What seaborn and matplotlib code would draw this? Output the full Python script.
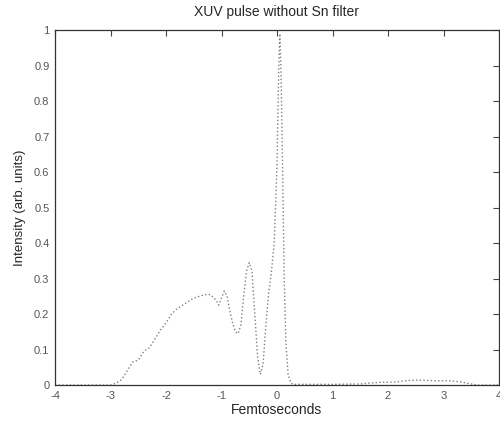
import matplotlib
matplotlib.use("Agg")
import matplotlib.pyplot as plt
import seaborn as sns
import pandas as pd

# time axis (fs) and intensity
tiempo = [-4.0, -3.5, -3.0, -2.9, -2.8, -2.7, -2.6, -2.5, -2.4, -2.3, -2.2,
          -2.1, -2.0, -1.9, -1.8, -1.7, -1.6, -1.5, -1.4, -1.3, -1.2, -1.1,
          -1.05, -1.0, -0.95, -0.9, -0.85, -0.8, -0.75, -0.7, -0.65, -0.6,
          -0.55, -0.5, -0.45, -0.4, -0.35, -0.3, -0.25, -0.2, -0.15, -0.1,
          -0.05, 0.0, 0.03, 0.05, 0.07, 0.1, 0.13, 0.16, 0.2, 0.25, 0.3,
          0.5, 1.0, 1.5, 1.7, 1.9, 2.1, 2.3, 2.5, 2.7, 2.9, 3.1, 3.3, 3.5,
          3.6, 4.0]
intensidad = [0.0, 0.0, 0.0, 0.005, 0.015, 0.04, 0.065, 0.07, 0.095, 0.105,
              0.13, 0.155, 0.175, 0.20, 0.215, 0.225, 0.235, 0.245, 0.25,
              0.255, 0.255, 0.24, 0.225, 0.245, 0.265, 0.25, 0.21, 0.175,
              0.15, 0.145, 0.17, 0.25, 0.32, 0.345, 0.32, 0.2, 0.08, 0.03,
              0.06, 0.17, 0.26, 0.32, 0.40, 0.62, 0.88, 0.99, 0.90, 0.62,
              0.30, 0.12, 0.03, 0.005, 0.002, 0.002, 0.002, 0.003, 0.006,
              0.008, 0.008, 0.012, 0.014, 0.013, 0.012, 0.012, 0.009, 0.003,
              0.0, 0.0]

x_ticks = [-4, -3, -2, -1, 0, 1, 2, 3, 4]
y_ticks = [0, 0.1, 0.2, 0.3, 0.4, 0.5, 0.6, 0.7, 0.8, 0.9, 1]
y_labels = ["0", "0.1", "0.2", "0.3", "0.4", "0.5", "0.6", "0.7", "0.8", "0.9", "1"]

df = pd.DataFrame({"t": tiempo, "I": intensidad})

sns.set_style("white")
plt.rcParams["font.family"] = ["Liberation Sans", "DejaVu Sans"]
plt.rcParams["axes.unicode_minus"] = False

fig = plt.figure(figsize=(5, 4.25), dpi=100)
ax = fig.add_axes([0.11, 0.094, 0.888, 0.835])

sns.lineplot(data=df, x="t", y="I", ax=ax, color="#808080",
             linestyle=":", linewidth=1.0)

ax.set_xlim(-4, 4)
ax.set_ylim(0, 1)
ax.set_xticks(x_ticks)
ax.set_yticks(y_ticks)
ax.set_yticklabels(y_labels)
ax.tick_params(direction="in", length=4, width=0.8, top=True, right=True,
               labelsize=8, labelcolor="#555555", color="#444444", pad=4)
for s in ax.spines.values():
    s.set_color("#333333")
    s.set_linewidth(0.9)

ax.set_title("XUV pulse without Sn filter", fontsize=10, pad=10)
ax.set_xlabel("Femtoseconds", fontsize=10, labelpad=2)
ax.set_ylabel("Intensity (arb. units)", fontsize=9.5, labelpad=6)

fig.savefig("out.png", dpi=100)
